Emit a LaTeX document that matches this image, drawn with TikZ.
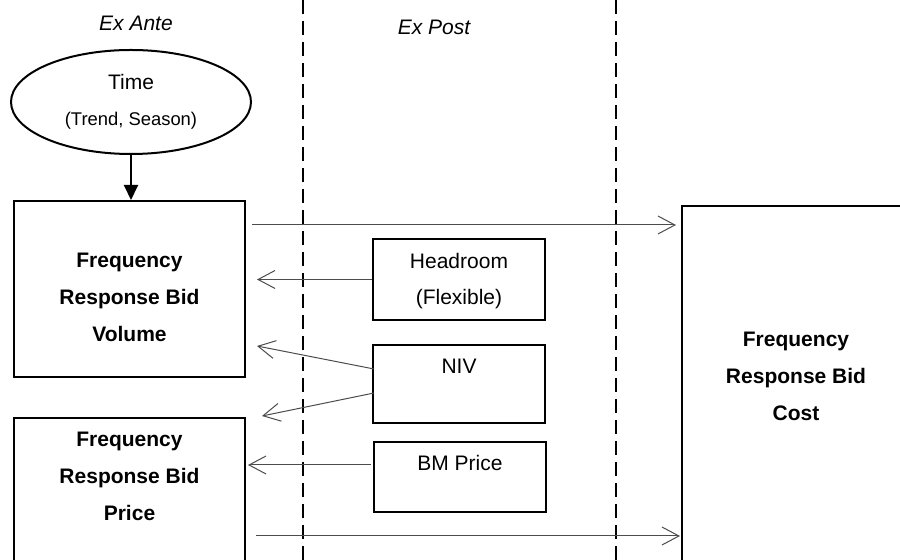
\documentclass[tikz,border=0pt]{standalone}
\usepackage{fontspec}
\setmainfont{Liberation Sans}
\usetikzlibrary{arrows.meta,calc,shapes.geometric}

\begin{document}
\begin{tikzpicture}[x=0.5pt,y=-0.5pt,
  box/.style={draw, line width=1pt, inner sep=0pt, rectangle},
  plain/.style={font=\fontsize{10.5}{18}\selectfont, align=center},
  boldtext/.style={font=\bfseries\fontsize{10.5}{18.5}\selectfont, align=center, inner sep=0pt},
  heading/.style={font=\itshape\fontsize{10.5}{12}\selectfont, inner sep=0pt},
  divider/.style={line width=1pt, dash pattern=on 7pt off 3.5pt},
  flow/.style={draw=black!70, line width=0.5pt, -{Straight Barb[length=8.5pt,width=9pt]}},
  feed/.style={line width=1pt, -{Triangle[length=7.5pt,width=7pt]}}]

\useasboundingbox (0,0) rectangle (900,560);
\begin{scope}
\clip (0,0) rectangle (900,560);

% phase headings
\node[heading] (exante) at (136,23) {Ex Ante};
\node[heading] (expost) at (434,27) {Ex Post};

% phase dividers
\coordinate (div1top) at (303,0);
\coordinate (div1bot) at (303,560);
\coordinate (div2top) at (616,0);
\coordinate (div2bot) at (616,560);
\draw[divider] (div1top) -- (div1bot);
\draw[divider] (div2top) -- (div2bot);

% ex ante drivers and outputs
\node[draw, line width=1pt, ellipse, inner sep=0pt, minimum width=120pt, minimum height=52pt,
      align=center, font=\fontsize{10.5}{18}\selectfont] (time) at (131,102)
      {Time\\{\fontsize{9.2}{18}\selectfont (Trend, Season)}};

\node[box, minimum width=115.5pt, minimum height=88pt] (vol) at (129.5,289) {};
\node[boldtext] (voltext) at (129.5,297) {Frequency\\Response Bid\\Volume};

\node[box, minimum width=115.5pt, minimum height=91pt] (price) at (129.5,509) {};
\node[boldtext] (pricetext) at (129.5,476) {Frequency\\Response Bid\\Price};

% ex post inputs
\node[box, plain, minimum width=86pt, minimum height=40.5pt] (head) at (459,279.5)
      {\strut Headroom\\\strut(Flexible)};
\node[box, plain, minimum width=86pt, minimum height=39pt] (niv) at (459,384)
      {\strut NIV\\\strut};
\node[box, plain, minimum width=86pt, minimum height=35pt] (bm) at (460,477)
      {\strut BM Price\\[-4pt]\strut};

% resulting cost
\node[box, minimum width=124pt, minimum height=197pt] (cost) at (806,403) {};
\node[boldtext] (costtext) at (796,376) {Frequency\\Response Bid\\Cost};

% connectors
\draw[feed] (time.south) -- (time.south |- vol.north);

\coordinate (volout) at ($(vol.north east)+(6,25)$);
\draw[flow] (volout) -- ($(volout -| cost.west)+(-5,0)$);

\draw[flow] (head.west) -- ($(head.west -| vol.east)+(11,0)$);

\draw[flow] ($(niv.west)+(2,-15)$) -- ($(vol.east)+(11,57)$);
\draw[flow] ($(niv.west)+(2,9)$) -- ($(price.north east)+(16,-1)$);

\coordinate (bmout) at ($(bm.west)+(-2,-12)$);
\draw[flow] (bmout) -- ($(bmout -| price.east)+(2,0)$);

\coordinate (priceout) at ($(price.north east)+(10,119)$);
\draw[flow] (priceout) -- ($(priceout -| cost.west)+(-1,0)$);

\end{scope}
\end{tikzpicture}
\end{document}
